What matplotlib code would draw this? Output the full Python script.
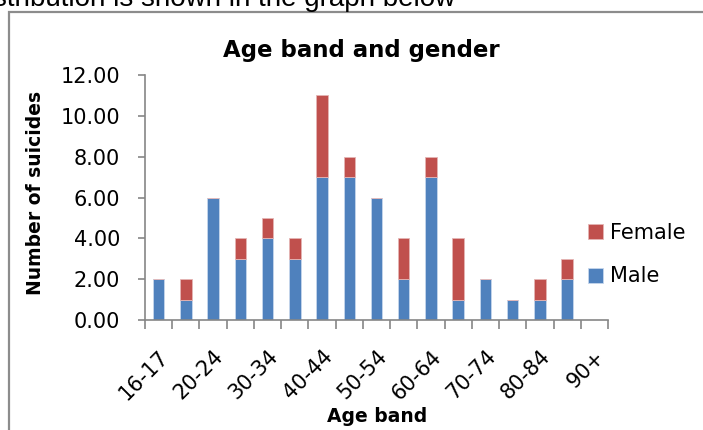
import matplotlib.pyplot as plt
import numpy as np
from matplotlib.patches import Rectangle

# -------------------------
# Data
# -------------------------
age_bands = ["16-17", "18-19", "20-24", "25-29", "30-34", "35-39", "40-44", "45-49",
             "50-54", "55-59", "60-64", "65-69", "70-74", "75-79", "80-84", "85-89", "90+"]
male = [2, 1, 6, 3, 4, 3, 7, 7, 6, 2, 7, 1, 2, 1, 1, 2, 0]
female = [0, 1, 0, 1, 1, 1, 4, 1, 0, 2, 1, 3, 0, 0, 1, 1, 0]
y_ticks = [0, 2, 4, 6, 8, 10, 12]

BLUE = "#4F81BD"
RED = "#C0504D"
AXIS_GREY = "#868686"
FONT = "DejaVu Sans"
W, H = 703, 430


def fx(px):
    return px / W


def fy(py):
    return 1 - py / H


fig = plt.figure(figsize=(W / 100, H / 100), dpi=100)

# document text above the chart, cut off by the top edge
fig.text(fx(-7), fy(6), "stribution is shown in the graph below",
         fontsize=20, family="Liberation Sans", va="baseline", ha="left")

# chart frame (runs past the right and bottom edges of the picture)
fig.patches.append(Rectangle((fx(9), -0.2), 1.2, fy(12) + 0.2,
                             transform=fig.transFigure, fill=False,
                             edgecolor="#8c8c8c", lw=1.6))

ax = fig.add_axes([fx(145), fy(320), fx(608) - fx(145), fy(75) - fy(320)])

x = np.arange(len(age_bands))
ax.bar(x, male, width=0.42, color=BLUE, edgecolor="#c6d6ec", lw=0.6, label="Male")
ax.bar(x, female, width=0.42, bottom=male, color=RED, edgecolor="#e4b5b4", lw=0.6,
       label="Female")

ax.set_xlim(-0.5, len(age_bands) - 0.5)
ax.set_ylim(0, 12)

ax.set_yticks(y_ticks)
ax.set_yticklabels([f"{v:.2f}" for v in y_ticks], fontsize=15, family=FONT)
ax.tick_params(axis="y", length=5.3, color=AXIS_GREY, width=1.2, pad=12.5)

# category labels on every other band, tick marks at band boundaries
ax.set_xticks(x[::2])
ax.set_xticklabels(age_bands[::2], rotation=45, ha="right", rotation_mode="anchor",
                   fontsize=15, family=FONT)
ax.tick_params(axis="x", which="major", length=0, pad=19)
ax.set_xticks(np.arange(-0.5, len(age_bands)), minor=True)
ax.tick_params(axis="x", which="minor", length=6.3, color=AXIS_GREY, width=1.2)

for side in ["top", "right"]:
    ax.spines[side].set_visible(False)
for side in ["left", "bottom"]:
    ax.spines[side].set_color(AXIS_GREY)
    ax.spines[side].set_linewidth(1.2)

fig.text(fx(361), fy(57), "Age band and gender", fontsize=16.5, fontweight="bold",
         family=FONT, ha="center", va="baseline")
fig.text(fx(36), fy(193), "Number of suicides", fontsize=13.5, fontweight="bold",
         family=FONT, ha="center", va="center", rotation=90)
fig.text(fx(377), fy(422), "Age band", fontsize=13.5, fontweight="bold",
         family=FONT, ha="center", va="baseline")

handles, labels = ax.get_legend_handles_labels()
fig.legend(handles[::-1], labels[::-1], loc="center left",
           bbox_to_anchor=(fx(588), fy(254.5)), bbox_transform=fig.transFigure,
           frameon=False, prop={"family": FONT, "size": 15}, handlelength=0.72,
           handleheight=0.72, labelspacing=1.15, handletextpad=0.35, borderpad=0,
           borderaxespad=0)

fig.savefig("out.png", dpi=100)
